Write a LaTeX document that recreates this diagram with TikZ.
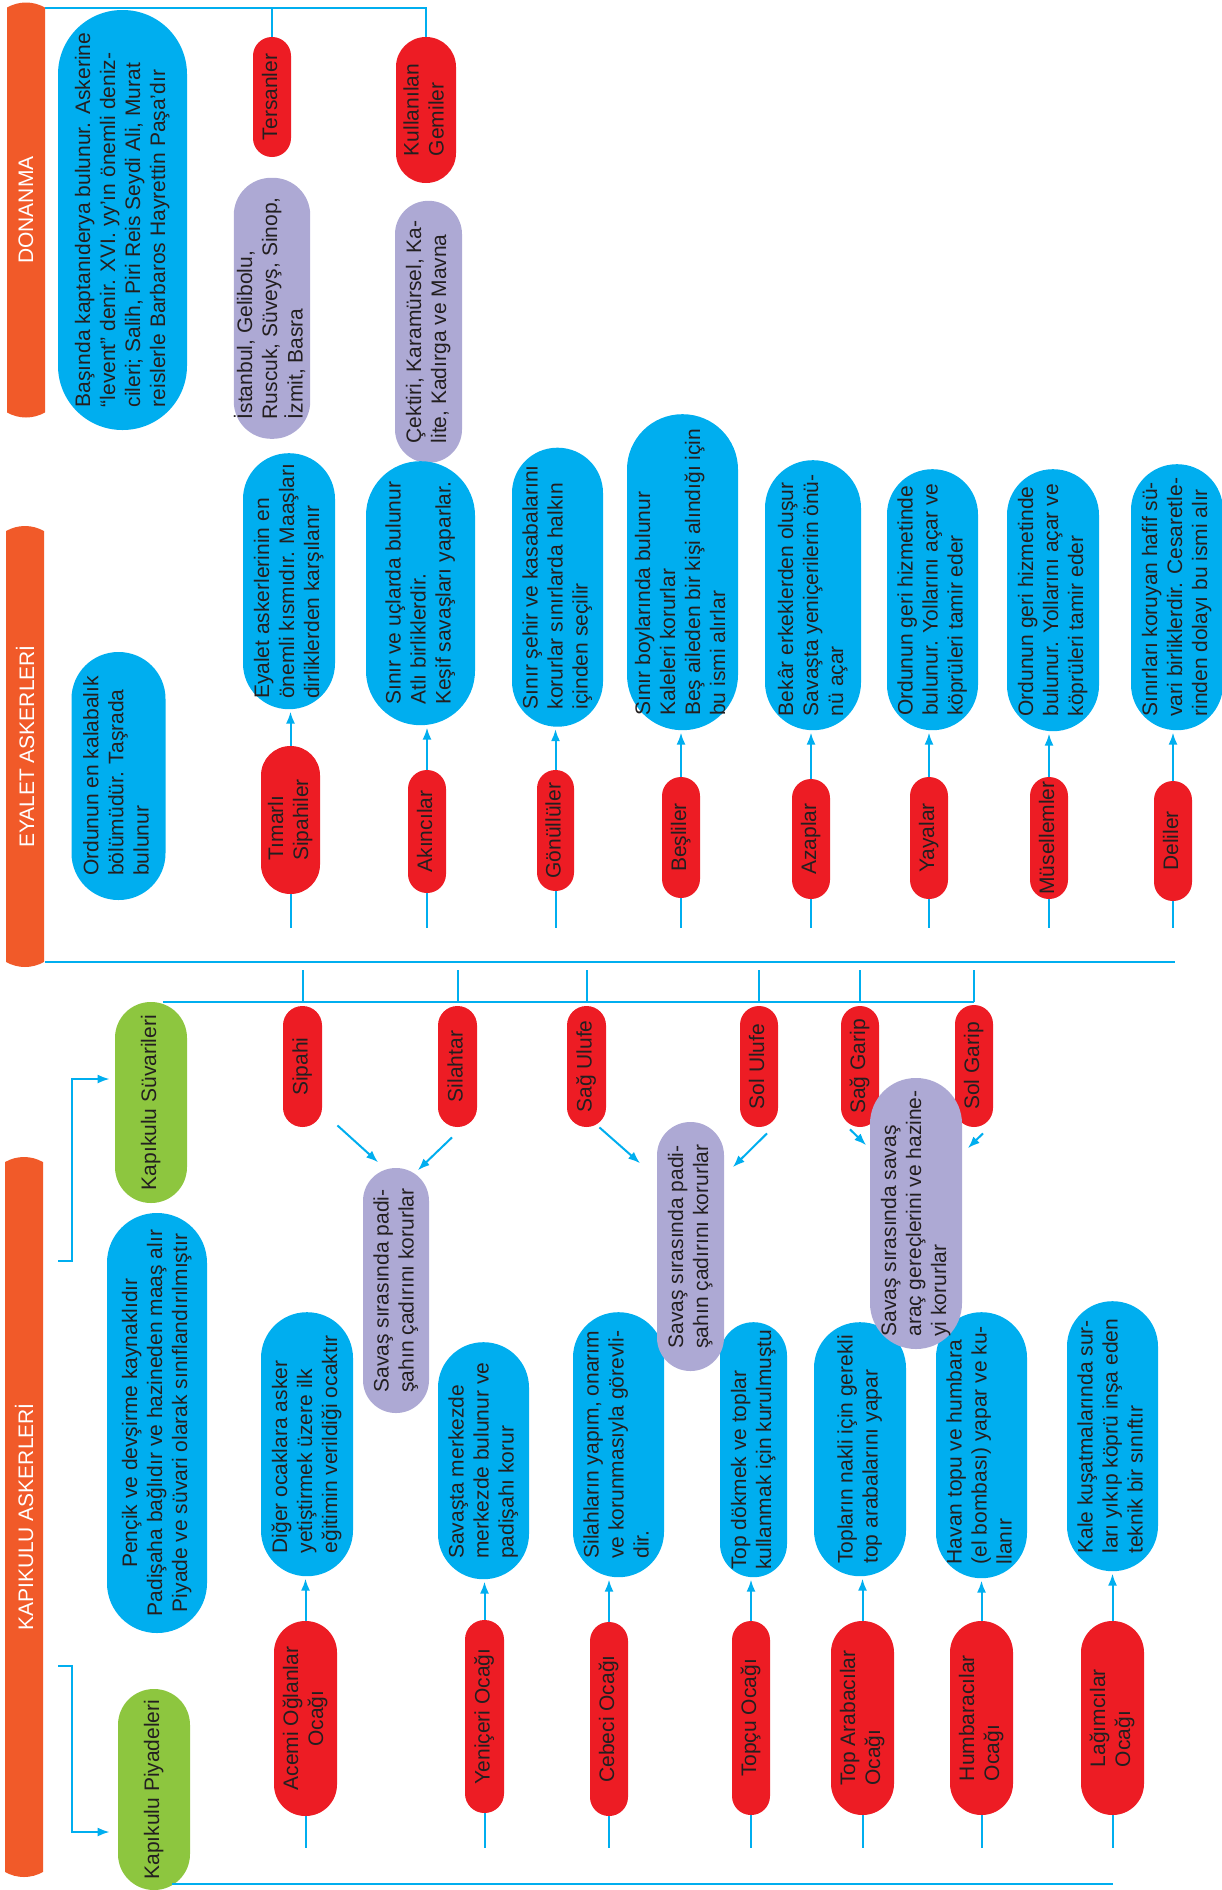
\documentclass[tikz,border=0pt]{standalone}
\usepackage{fontspec}
\setmainfont{Liberation Sans}
\usepackage{graphicx}
\usepackage{xcolor}
\usepackage{tikz}
\usetikzlibrary{
    positioning,
    arrows.meta,
    calc,
    shapes.misc
}
\definecolor{barorange}{RGB}{241,90,41}
\definecolor{infoblue}{RGB}{0,174,239}
\definecolor{unitred}{RGB}{237,28,36}
\definecolor{notepurple}{RGB}{173,169,212}
\definecolor{groupgreen}{RGB}{141,198,63}
\definecolor{inkgray}{RGB}{35,31,32}

\newcommand{\vtext}[1]{\rotatebox{90}{\begin{tabular}{@{}l@{}}#1\end{tabular}}}
\newcommand{\vtextc}[1]{\rotatebox{90}{\begin{tabular}{@{}c@{}}#1\end{tabular}}}

\tikzset{
    pill/.style 2 args={
        rectangle, inner sep=0pt,
        minimum width=#1*0.5pt, minimum height=#2*0.5pt,
        rounded corners=#1*0.249pt,
        text=inkgray, font=\fontsize{10.5}{12.5}\selectfont
    },
    info_pill/.style 2 args={pill={#1}{#2}, fill=infoblue},
    unit_pill/.style 2 args={pill={#1}{#2}, fill=unitred},
    note_pill/.style 2 args={pill={#1}{#2}, fill=notepurple},
    group_pill/.style 2 args={pill={#1}{#2}, fill=groupgreen},
    sec_bar/.style={
        rounded rectangle, rounded rectangle arc length=60,
        rotate=90, inner sep=0pt, minimum height=19pt,
        fill=barorange, text=white, font=\fontsize{10.5}{12.5}\selectfont
    }
}

\begin{document}
\begin{tikzpicture}[
        x=0.5pt, y=-0.5pt,
        link/.style={draw=infoblue, line width=1pt},
        arrow/.style={link, -{Latex[length=6pt,width=4.5pt]}, shorten >=1pt},
        side_arrow/.style={link, -{Latex[length=6pt,width=4.5pt]}}
    ]
    \useasboundingbox (0,0) rectangle (1221,1890);

    % DONANMA
    \node[sec_bar, minimum width=207.5pt] (don_bar) at (26,210) {DONANMA};
    \node[info_pill={129}{420}] (don_info) at (122.5,220) {\vtext{Başında kaptanıderya bulunur. Askerine\\“levent” denir. XVI. yy’ın önemli deniz-\\cileri; Salih, Piri Reis Seydi Ali, Murat\\reislerle Barbaros Hayrettin Paşa’dır}};
    \node[unit_pill={38}{120}] (tersane) at (272,97) {\vtext{Tersanler}};
    \node[unit_pill={60}{146}] (gemiler) at (426,110) {\vtext{Kullanılan\\Gemiler}};
    \node[note_pill={75}{261}, below=10pt of tersane] (tersane_list) {\vtext{İstanbul, Gelibolu,\\Ruscuk, Süveyş, Sinop,\\İzmit, Basra}};
    \node[note_pill={67}{262}, below=8.5pt of gemiler, xshift=1.25pt] (gemiler_list) {\vtext{Çektiri, Karamürsel, Ka-\\lite, Kadırga ve Mavna}};

    % EYALET ASKERLERI
    \node[sec_bar, minimum width=220.5pt] (ey_bar) at (25,746.5) {EYALET ASKERLERİ};
    \node[info_pill={94}{248}] (ey_info) at (118.5,776) {\vtext{Ordunun en kalabalık\\bölümüdür. Taşrada\\bulunur}};

    \node[unit_pill={59}{148}] (timarli) at (290.5,820) {\vtext{Tımarlı\\Sipahiler}};
    \node[unit_pill={38}{123}] (akinci) at (427,831.5) {\vtext{Akıncılar}};
    \node[unit_pill={37}{121}] (gonullu) at (555.5,830.5) {\vtext{Gönüllüler}};
    \node[unit_pill={38}{121}] (besli) at (681,837.5) {\vtext{Beşliler}};
    \node[unit_pill={38}{120}] (azap) at (811,839) {\vtext{Azaplar}};
    \node[unit_pill={38}{122}] (yaya) at (929,838) {\vtext{Yayalar}};
    \node[unit_pill={38}{122}] (musellem) at (1049,838) {\vtext{Müsellemler}};
    \node[unit_pill={38}{120}] (deli) at (1173,841) {\vtext{Deliler}};

    \node[info_pill={92}{256}, above=18pt of timarli, xshift=-0.75pt] (timarli_info) {\vtext{Eyalet askerlerinin en\\önemli kısmıdır. Maaşları\\dirliklerden karşılanır}};
    \node[info_pill={109}{264}, above=22pt of akinci, xshift=-3.25pt] (akinci_info) {\vtext{Sınır ve uçlarda bulunur\\Atlı birliklerdir.\\Keşif savaşları yaparlar.}};
    \node[info_pill={91}{279}, above=21.25pt of gonullu, xshift=1pt] (gonullu_info) {\vtext{Sınır şehir ve kasabalarını\\korurlar sınırlarda halkın\\içinden seçilir}};
    \node[info_pill={111}{316}, above=23pt of besli, xshift=0.75pt] (besli_info) {\vtext{Sınır boylarında bulunur\\Kaleleri korurlar\\Beş aileden bir kişi alındığı için\\bu ismi alırlar}};
    \node[info_pill={96}{270}, above=24pt of azap, xshift=1pt] (azap_info) {\vtext{Bekâr erkeklerden oluşur\\Savaşta yeniçerilerin önü-\\nü açar}};
    \node[info_pill={91}{261}, above=23pt of yaya, xshift=1.75pt] (yaya_info) {\vtext{Ordunun geri hizmetinde\\bulunur. Yollarını açar ve\\köprüleri tamir eder}};
    \node[info_pill={92}{262}, above=22.5pt of musellem, xshift=2pt] (musellem_info) {\vtext{Ordunun geri hizmetinde\\bulunur. Yollarını açar ve\\köprüleri tamir eder}};
    \node[info_pill={92}{266}, above=25pt of deli, xshift=2pt] (deli_info) {\vtext{Sınırları koruyan hafif sü-\\vari birliklerdir. Cesaretle-\\rinden dolayı bu ismi alır}};

    % KAPIKULU ASKERLERI
    \node[sec_bar, minimum width=360pt] (kp_bar) at (24,1517) {KAPIKULU ASKERLERİ};
    \node[group_pill={72}{201}] (suvari) at (151,1102.5) {\vtext{Kapıkulu Süvarileri}};
    \node[group_pill={72}{201}] (piyade) at (154,1789.5) {\vtext{Kapıkulu Piyadeleri}};
    \node[info_pill={100}{420}] (kp_info) at (157,1423) {\vtextc{Pençik ve devşirme kaynaklıdır\\Padişaha bağlıdır ve hazineden maaş alır\\Piyade ve süvari olarak sınıflandırılmıştır}};

    % Suvari units
    \node[unit_pill={39}{121}] (sipahi) at (302.5,1066.5) {\vtext{Sipahi}};
    \node[unit_pill={39}{121}] (silahtar) at (457.5,1066.5) {\vtext{Silahtar}};
    \node[unit_pill={39}{121}] (sagulufe) at (586.5,1066.5) {\vtext{Sağ Ulufe}};
    \node[unit_pill={38}{121}] (solulufe) at (759,1066.5) {\vtext{Sol Ulufe}};
    \node[unit_pill={38}{121}] (saggarip) at (860,1066.5) {\vtext{Sağ Garip}};
    \node[unit_pill={38}{122}] (solgarip) at (974,1066) {\vtext{Sol Garip}};

    % Piyade units
    \node[unit_pill={63}{195}] (acemi) at (305.5,1718.5) {\vtextc{Acemi Oğlanlar\\Ocağı}};
    \node[unit_pill={39}{193}] (yeniceri) at (484.5,1716.5) {\vtext{Yeniçeri Ocağı}};
    \node[unit_pill={38}{194}] (cebeci) at (609,1719) {\vtext{Cebeci Ocağı}};
    \node[unit_pill={38}{194}] (topcu) at (751,1718) {\vtext{Topçu Ocağı}};
    \node[unit_pill={63}{194}] (arabaci) at (862.5,1718) {\vtext{Top Arabacılar\\Ocağı}};
    \node[unit_pill={63}{194}] (humbara) at (981.5,1718) {\vtext{Humbaracılar\\Ocağı}};
    \node[unit_pill={63}{194}] (lagimci) at (1112.5,1718) {\vtext{Lağımcılar\\Ocağı}};

    \node[info_pill={92}{264}, above=22pt of acemi, xshift=0.75pt] (acemi_info) {\vtext{Diğer ocaklara asker\\yetiştirmek üzere ilk\\eğitimin verildiği ocaktır}};
    \node[info_pill={91}{237}, above=20pt of yeniceri, xshift=-0.5pt] (yeniceri_info) {\vtext{Savaşta merkezde\\merkezde bulunur ve\\padişahı korur}};
    \node[info_pill={91}{265}, above=22pt of cebeci, xshift=4.75pt] (cebeci_info) {\vtext{Silahların yapım, onarım\\ve korunmasıyla görevli-\\dir.}};
    \node[info_pill={67}{255}, above=21.5pt of topcu, xshift=1.25pt] (topcu_info) {\vtext{Top dökmek ve toplar\\kullanmak için kurulmuştu}};
    \node[info_pill={92}{254}, above=22pt of arabaci, xshift=-1.25pt] (arabaci_info) {\vtext{Topların nakli için gerekli\\top arabalarını yapar}};
    \node[info_pill={91}{266}, above=21pt of humbara] (humbara_info) {\vtext{Havan topu ve humbara\\(el bombası) yapar ve ku-\\llanır}};
    \node[info_pill={91}{270}, above=24.5pt of lagimci] (lagimci_info) {\vtext{Kale kuşatmalarında sur-\\ları yıkıp köprü inşa eden\\teknik bir sınıftır}};

    % Guard notes (over the red units)
    \node[note_pill={66}{245}] (cadir_a) at (396,1290.5) {\vtext{Savaş sırasında padi-\\şahın çadırını korurlar}};
    \node[note_pill={67}{249}] (cadir_b) at (690.5,1246.5) {\vtext{Savaş sırasında padi-\\şahın çadırını korurlar}};
    \node[note_pill={92}{271}] (hazine) at (916,1213.5) {\vtext{Savaş sırasında savaş\\araç gereçlerini ve hazine-\\yi korurlar}};

    % Connections
    % Donanma
    \coordinate (don_line) at (45,8);
    \draw[link] (don_line) -- (don_line -| gemiler.north) -- (gemiler.north);
    \draw[link] (don_line -| tersane.north) -- (tersane.north);

    % Eyalet
    \coordinate (ey_line_l) at (45,962);
    \coordinate (ey_line_r) at (1175,962);
    \coordinate (ey_stub) at (0,928);
    \draw[link] (ey_line_l) -- (ey_line_r);
    \foreach \u in {timarli,akinci,gonullu,besli,azap,yaya,musellem,deli} {
        \draw[link] (\u.south) -- (\u.south |- ey_stub);
        \draw[arrow] (\u.north) -- (\u.north |- \u_info.south);
    }

    % Kapikulu suvarileri
    \coordinate (kp_stub_top) at (0,970);
    \draw[link] ($(suvari.north)+(12,0)$) -- (suvari.north -| solgarip.north);
    \foreach \u in {sipahi,silahtar,sagulufe,solulufe,saggarip,solgarip} {
        \draw[link] (\u.north |- suvari.north) -- (\u.north |- kp_stub_top);
    }
    \draw[arrow] ($(sipahi.south east)+(15,-2)$) -- ($(cadir_a.north west)+(17,-4)$);
    \draw[arrow] ($(silahtar.south)+(-5.5,10)$) -- ($(cadir_a.north east)+(-13,4)$);
    \draw[arrow] ($(sagulufe.south east)+(-7,0)$) -- ($(cadir_b.north west)+(-15,43)$);
    \draw[arrow] ($(solulufe.south)+(8,6)$) -- ($(cadir_b.north east)+(7,47)$);
    \draw[arrow] ($(saggarip.south)+(-10,2)$) -- ($(hazine.north west)+(-2,69)$);
    \draw[arrow] ($(solgarip.south)+(9,6)$) -- ($(hazine.north east)+(4,72)$);

    % Kapikulu piyadeleri
    \coordinate (kp_line_bot) at (172,1884);
    \coordinate (kp_stub_bot) at (0,1848);
    \draw[link] (kp_line_bot) -- (kp_line_bot -| lagimci.south);
    \foreach \u in {acemi,yeniceri,cebeci,topcu,arabaci,humbara,lagimci} {
        \draw[link] (\u.south) -- (\u.south |- kp_stub_bot);
        \draw[arrow] (\u.north) -- (\u.north |- \u_info.south);
    }

    % Brackets to the two groups
    \coordinate (brk_suvari) at (58,1261);
    \coordinate (brk_piyade) at (58,1666);
    \draw[side_arrow, shorten >=2.5pt] (brk_suvari) -- ++(14,0) |- ($(suvari.west)+(0,-23.5)$);
    \draw[side_arrow, shorten >=4pt] (brk_piyade) -- ++(14,0) |- ($(piyade.west)+(0,42.5)$);

\end{tikzpicture}
\end{document}
